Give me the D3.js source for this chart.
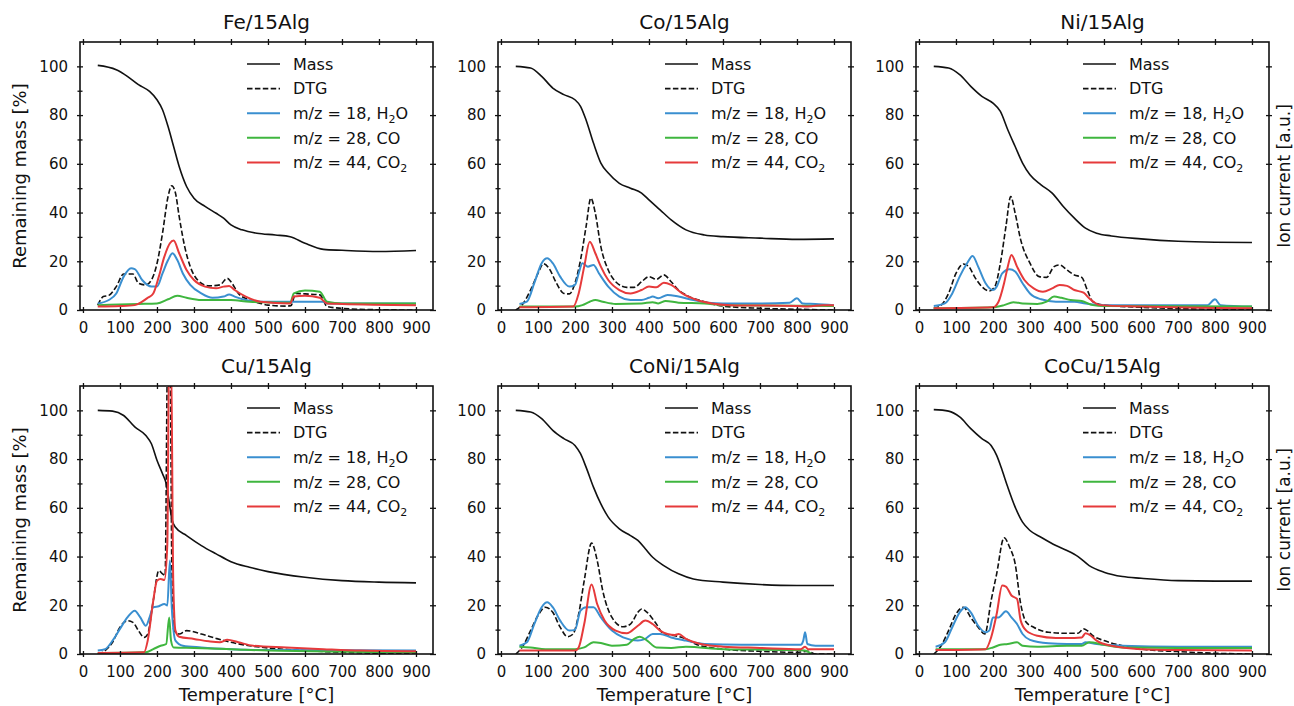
<!DOCTYPE html>
<html>
<head>
<meta charset="utf-8">
<script src="https://cdn.jsdelivr.net/npm/d3@7"></script>
<style>
body{margin:0;background:#fff;}
svg{display:block;font-family:"DejaVu Sans",sans-serif;}
</style>
</head>
<body>
<svg id="chart" width="1294" height="706"></svg>
<script>
// ---------- data (temperature °C, value) ----------
const titles = ["Fe/15Alg","Co/15Alg","Ni/15Alg","Cu/15Alg","CoNi/15Alg","CoCu/15Alg"];
const xTicks = [0,100,200,300,400,500,600,700,800,900];
const yTicks = [0,20,40,60,80,100];
const yMinor = [10,30,50,70,90];
const legendLabels = ["Mass","DTG","m/z = 18, H|2|O","m/z = 28, CO","m/z = 44, CO|2|"];

const feMass=[[40,100.4],[90,98.6],[120,95.9],[150,92.5],[180,89.7],[200,86.3],[215,82.2],[230,75.3],[245,67.1],[260,58.9],[280,50.7],[300,45.9],[330,42.5],[360,39.7],[380,37.7],[400,34.9],[430,32.9],[470,31.5],[520,30.8],[560,30.1],[600,27.4],[650,24.9],[700,24.5],[800,24.0],[900,24.4]];
const feDTG=[[40,2],[55,5.5],[70,6],[90,9.6],[110,14.8],[135,14.8],[150,11],[170,10.3],[185,12.3],[200,19],[215,31.5],[230,46.6],[240,51],[250,48],[260,38.4],[275,26],[290,17.8],[310,12.3],[340,9.9],[370,10.3],[390,13],[400,11.6],[420,6.8],[450,4.1],[480,2.7],[500,2],[550,1.6],[562,1.8],[575,6.8],[600,6.6],[640,6.2],[660,1.4],[700,0.7],[800,0.1],[900,0]];
const feH2O=[[40,2.7],[70,4.1],[90,6.8],[110,13.7],[130,17.1],[140,16.8],[160,12.3],[185,9.6],[200,9.6],[215,15],[230,20.5],[242,23.3],[255,20.5],[270,15],[290,10.3],[320,6.8],[350,5],[380,5.5],[395,6.4],[410,5.5],[440,4.1],[480,3.4],[650,3.4],[660,2.7],[900,2.7]];
const feCO=[[40,2],[150,2.5],[200,2.7],[230,4.4],[255,5.9],[280,5],[320,4.1],[400,4.1],[450,3.4],[560,3],[570,6.8],[600,8],[640,7.5],[660,3.4],[700,2.7],[900,2.7]];
const feCO2=[[40,1.4],[100,1.6],[140,2],[160,3.4],[175,5],[190,6.8],[205,13.7],[220,21.9],[235,27.4],[245,28.5],[260,23.3],[280,16.4],[300,12.3],[330,9.6],[360,8.9],[380,9.6],[395,9.9],[410,8.2],[440,5.5],[480,3.4],[560,2.7],[570,5.5],[600,5.8],[640,5],[660,2.7],[700,2.5],[900,2]];

const coMass=[[40,100],[80,99.3],[110,95.9],[140,91.1],[170,88.4],[200,86.3],[215,83.6],[230,78],[250,68.5],[270,60.3],[290,56.2],[320,52],[350,50],[380,48],[400,45.2],[430,41.1],[460,37],[500,32.9],[550,30.8],[600,30.1],[700,29.5],[800,29],[900,29.2]];
const coDTG=[[40,0],[60,2.7],[80,8.2],[100,15],[115,19],[130,17.1],[150,11],[170,6.8],[185,6.6],[200,11],[215,20.5],[230,34.2],[243,45.9],[255,39.7],[270,26],[290,16.4],[310,11.6],[340,9.3],[360,9.3],[380,11.6],[400,13.7],[420,12.6],[440,14.4],[460,11.6],[480,8.2],[500,6.2],[550,3.4],[600,1.6],[700,0.7],[800,0.3],[900,0]];
const coH2O=[[50,2.5],[70,3.4],[90,11],[110,19.2],[125,21.2],[140,19.2],[160,13.7],[185,9.6],[200,10.3],[210,15],[220,19.2],[235,17.8],[250,18.5],[265,15],[290,9.6],[320,5.5],[350,4.1],[380,4.1],[400,5],[410,5.5],[425,4.8],[450,6.2],[480,5.5],[520,4.1],[560,3],[600,2.7],[700,2.7],[780,3],[800,4.8],[815,2.7],[850,2.5],[900,2]];
const coCO=[[50,1.4],[200,1.4],[220,2],[240,3.4],[255,4.1],[275,3.4],[310,2.5],[380,2.7],[410,3.2],[425,2.7],[445,3.7],[480,3],[550,2.7],[600,2],[900,1.6]];
const coCO2=[[50,1.1],[195,1.4],[210,6.8],[225,17.8],[240,28],[255,23.3],[270,17.8],[290,12.3],[320,8.2],[350,6.8],[380,8.2],[400,9.6],[420,9.3],[440,11.2],[460,10.3],[490,6.8],[530,4.1],[570,2.7],[620,2],[800,1.6],[830,1.4],[870,2],[900,2]];

const niMass=[[40,100],[80,99.3],[110,96.6],[140,91.8],[170,87.7],[200,84.9],[220,81.5],[240,74],[260,67.1],[280,60.3],[300,55.5],[330,51.4],[360,48],[390,42.5],[420,37.7],[450,33.6],[480,31.5],[520,30.4],[600,29.2],[700,28.2],[800,27.8],[900,27.7]];
const niDTG=[[40,0.7],[60,2],[80,6.8],[100,15],[120,18.9],[135,17.8],[150,13.7],[170,9.6],[190,7.8],[205,9.6],[220,19.2],[235,34.2],[248,46.6],[260,39.7],[275,28.8],[300,19.2],[325,13.7],[345,13.4],[365,17.8],[380,18.5],[400,16.4],[420,14.4],[440,13.4],[455,8.2],[470,3.4],[500,2],[600,1.1],[700,0.6],[900,0]];
const niH2O=[[40,1.6],[70,2.7],[90,6.8],[110,13.7],[130,19.2],[145,22.2],[160,17.8],[180,11],[200,8.2],[210,9.6],[225,15],[245,16.7],[260,15.8],[280,11],[300,6.8],[330,4.4],[370,3.4],[420,3.4],[450,2.7],[500,2],[780,2],[800,4.4],[815,2],[900,1.4]];
const niCO=[[40,0.7],[200,1.1],[230,2],[255,3.2],[280,2.7],[320,2.5],[345,3.4],[365,5.5],[385,5],[410,4.1],[440,3.7],[470,2],[500,1.6],[900,1.4]];
const niCO2=[[40,0.7],[200,1.1],[215,3.4],[230,11],[240,17.8],[250,22.6],[265,17.8],[285,12.3],[310,8.9],[335,7.5],[360,8.9],[380,10.3],[400,9.9],[420,8.2],[445,7.1],[460,4.8],[490,2],[600,1.4],[900,0.7]];

const cuMass=[[40,100],[80,99.7],[110,97.9],[140,93.2],[170,89.7],[185,86.3],[200,79.5],[215,74],[225,69.9],[235,60.3],[240,55.5],[250,52],[280,48.6],[320,44.5],[360,41.1],[400,37.9],[450,35.6],[500,33.8],[600,31.5],[700,30.1],[800,29.5],[900,29.2]];
const cuDTG=[[40,0],[60,1.4],[80,4.8],[100,11],[120,13.7],[135,13],[150,9.6],[165,6.8],[175,8.2],[190,21.9],[205,34.2],[215,32.9],[222,32.2],[229,125],[235,125],[241,25],[246,9.6],[260,8.2],[280,9.6],[320,8.2],[360,6.4],[400,4.8],[450,3.4],[500,2.5],[600,1.4],[700,0.7],[900,0]];
const cuH2O=[[40,1.4],[60,2],[80,5.5],[100,10.3],[120,15],[140,17.8],[155,15],[170,11.6],[180,15],[190,19.2],[205,19.6],[220,20.5],[228,19.9],[235,38.4],[240,19.2],[250,5.5],[270,3.4],[320,2.7],[400,2],[500,1.6],[900,1.4]];
const cuCO=[[40,0.4],[170,0.7],[190,2],[210,3.4],[225,4.1],[233,15],[238,5.5],[245,2.7],[300,2.5],[400,2],[500,1.4],[900,0.7]];
const cuCO2=[[40,0.4],[165,0.7],[175,5.5],[190,21.9],[200,30.1],[210,30.8],[220,30.4],[228,45],[233,125],[238,125],[244,30],[250,9.6],[260,7.1],[300,6.2],[340,5.2],[370,4.8],[390,5.8],[420,4.8],[460,3.4],[550,2.7],[650,2],[750,1.4],[900,1.1]];

const coniMass=[[40,100],[80,99.3],[110,96.6],[140,91.8],[170,88.4],[200,85.6],[215,82.2],[230,76.7],[250,68.5],[270,61.6],[290,56.2],[320,51.4],[350,48.6],[370,46.6],[390,43.2],[410,39.7],[440,36.3],[480,32.9],[520,30.8],[600,29.5],[700,28.5],[800,28.1],[900,28.1]];
const coniDTG=[[40,0],[60,3.4],[80,9.6],[100,15.8],[120,19.2],[140,17.1],[160,11],[180,7.1],[195,8.2],[210,16.4],[225,30.1],[245,45.5],[260,38.4],[275,26],[300,15],[330,11.2],[350,12.3],[370,17.1],[380,18.5],[395,17.1],[420,12.3],[440,8.2],[470,7.5],[500,6.2],[530,3.8],[600,2],[700,1.1],[800,0.7],[830,1.1],[850,0],[900,0]];
const coniH2O=[[50,3.4],[70,4.8],[90,12.3],[110,19.2],[125,21.2],[140,19.2],[160,13.7],[185,9.6],[200,9.9],[215,17.8],[230,19.2],[250,19.2],[270,15],[300,9.6],[330,6.8],[370,5.5],[390,6.2],[410,8.2],[430,8.2],[460,6.8],[500,5.5],[550,4.1],[650,3.8],[810,3.8],[817,5.5],[822,8.9],[828,4.1],[850,3.4],[900,3.4]];
const coniCO=[[50,3],[80,2.7],[120,2],[200,2],[225,2.7],[250,4.8],[270,4.5],[300,3.4],[340,3.8],[360,6.2],[375,7.1],[395,5.5],[420,2.7],[460,2.5],[500,3],[600,2],[800,1.6],[820,1.4],[840,0]];
const coniCO2=[[50,1.4],[200,1.4],[210,2.7],[225,12.3],[245,28.5],[260,20.5],[280,13.7],[310,9.6],[340,8.5],[370,11.6],[390,13.7],[410,12.3],[430,9.6],[450,8.2],[470,7.8],[480,8.2],[500,6.2],[540,4.1],[600,3],[700,2.5],[810,2],[822,3],[830,2],[900,2]];

const cocuMass=[[40,100.3],[80,99.7],[110,97.3],[140,92.5],[170,88.4],[195,85.6],[210,81.5],[225,75.3],[240,68.5],[260,60.3],[280,54.1],[300,50.7],[330,47.9],[370,44.5],[400,42.5],[430,40],[460,36.3],[500,33.6],[550,31.8],[600,31.1],[700,30.1],[800,29.9],[900,29.9]];
const cocuDTG=[[40,0],[60,3.4],[80,9.6],[100,16.4],[120,19.2],[140,15],[160,11],[178,8.2],[195,21.9],[210,32.9],[230,47.7],[245,43.8],[260,37],[275,20.5],[290,13],[310,11],[350,8.9],[400,8.5],[430,8.5],[445,10.3],[455,9.6],[470,7.5],[500,5.5],[550,3.4],[600,2],[700,1],[800,0.3],[900,0]];
const cocuH2O=[[45,3],[70,4.8],[90,11],[110,17.1],[125,19.2],[140,17.1],[160,11.6],[180,8.9],[190,9.6],[200,15],[215,15],[235,17.5],[250,15],[265,12.3],[280,8.2],[300,5.8],[350,4.4],[400,4.1],[440,4.1],[450,4.8],[480,4.1],[550,3.4],[700,3],[900,3]];
const cocuCO=[[45,2],[180,2],[200,2.7],[220,3.8],[240,4.1],[265,4.8],[280,3.4],[320,3],[400,3.4],[440,3.4],[460,4.8],[500,3.8],[550,2.7],[700,2.5],[900,2.5]];
const cocuCO2=[[45,1.6],[180,2],[195,6.8],[210,16.4],[225,28.1],[235,27.7],[250,24],[265,22.6],[275,13.7],[290,9.6],[320,7.5],[370,6.6],[420,6.6],[440,6.8],[450,8.5],[465,7.5],[480,5.5],[520,3.4],[600,2],[700,1.6],[900,1.4]];

// ---------- layout ----------
const panels = [
  {title:titles[0], s:[feMass,feDTG,feH2O,feCO,feCO2]},
  {title:titles[1], s:[coMass,coDTG,coH2O,coCO,coCO2]},
  {title:titles[2], s:[niMass,niDTG,niH2O,niCO,niCO2]},
  {title:titles[3], s:[cuMass,cuDTG,cuH2O,cuCO,cuCO2]},
  {title:titles[4], s:[coniMass,coniDTG,coniH2O,coniCO,coniCO2]},
  {title:titles[5], s:[cocuMass,cocuDTG,cocuH2O,cocuCO,cocuCO2]}
];
const colLeft=[80,498,916], rowTop=[42,386], W=353, H=268;
const styles=[
  {stroke:"#111", w:1.6, dash:null},
  {stroke:"#111", w:1.6, dash:"5.5,2.4"},
  {stroke:"#3a8fd0", w:2, dash:null},
  {stroke:"#3fb63f", w:2, dash:null},
  {stroke:"#e63a3b", w:2, dash:null}
];

const svg=d3.select("#chart");
const x=d3.scaleLinear().domain([-8,946]).range([0,W]);
const y=d3.scaleLinear().domain([0,110]).range([H,0]);

panels.forEach((p,i)=>{
  const c=i%3, r=Math.floor(i/3);
  const g=svg.append("g").attr("transform",`translate(${colLeft[c]},${rowTop[r]})`);
  g.append("clipPath").attr("id","clip"+i).append("rect").attr("width",W).attr("height",H);

  const line=d3.line().x(d=>x(d[0])).y(d=>y(d[1])).curve(d3.curveMonotoneX);
  const lg=g.append("g").attr("clip-path",`url(#clip${i})`);
  p.s.forEach((ser,k)=>{
    lg.append("path").datum(ser).attr("d",line).attr("fill","none")
      .attr("stroke",styles[k].stroke).attr("stroke-width",styles[k].w)
      .attr("stroke-dasharray",styles[k].dash).attr("stroke-linejoin","round");
  });

  g.append("rect").attr("width",W).attr("height",H).attr("fill","none").attr("stroke","#111").attr("stroke-width",1.6);

  const tickStyle=sel=>{sel.select(".domain").remove();sel.selectAll("line").attr("stroke","#111").attr("stroke-width",1.3);
    sel.selectAll("text").attr("fill","#111").style("font-size","15px").style("font-family","DejaVu Sans");};
  g.append("g").attr("transform",`translate(0,${H})`).call(d3.axisBottom(x).tickValues(xTicks).tickSize(3).tickPadding(9)).call(tickStyle);
  g.append("g").attr("transform",`translate(0,${H})`).call(d3.axisBottom(x).tickValues(xTicks).tickSize(-3).tickFormat("")).call(tickStyle);
  g.append("g").call(d3.axisTop(x).tickValues(xTicks).tickSize(3).tickFormat("")).call(tickStyle);
  g.append("g").call(d3.axisTop(x).tickValues(xTicks).tickSize(-3).tickFormat("")).call(tickStyle);
  g.append("g").call(d3.axisLeft(y).tickValues(yTicks).tickSize(3).tickPadding(9)).call(tickStyle);
  g.append("g").call(d3.axisLeft(y).tickValues(yTicks).tickSize(-3).tickFormat("")).call(tickStyle);
  g.append("g").call(d3.axisLeft(y).tickValues(yMinor).tickSize(2.5).tickFormat("")).call(tickStyle);
  g.append("g").call(d3.axisLeft(y).tickValues(yMinor).tickSize(-2.5).tickFormat("")).call(tickStyle);
  g.append("g").attr("transform",`translate(${W},0)`).call(d3.axisRight(y).tickValues(yTicks).tickSize(3).tickFormat("")).call(tickStyle);
  g.append("g").attr("transform",`translate(${W},0)`).call(d3.axisRight(y).tickValues(yTicks).tickSize(-3).tickFormat("")).call(tickStyle);

  g.append("text").attr("x",W/2+10).attr("y",-13).attr("text-anchor","middle")
    .style("font-size","20px").attr("fill","#111").text(p.title);

  const leg=g.append("g").attr("transform","translate(167,22)");
  legendLabels.forEach((lab,k)=>{
    const yy=k*24.6;
    leg.append("line").attr("x1",0).attr("x2",33).attr("y1",yy).attr("y2",yy)
      .attr("stroke",styles[k].stroke).attr("stroke-width",styles[k].w).attr("stroke-dasharray",styles[k].dash);
    const t=leg.append("text").attr("x",46).attr("y",yy).attr("dy","0.36em").style("font-size","16px").attr("fill","#111");
    lab.split("|").forEach((part,j)=>{
      if(!part) return;
      const ts=t.append("tspan").text(part);
      if(j===1) ts.style("font-size","11px").attr("dy","4");
      if(j===2) ts.attr("dy","-4");
    });
  });

  if(c===0){
    g.append("text").attr("transform",`translate(${20-colLeft[c]},${H/2}) rotate(-90)`)
      .attr("text-anchor","middle").attr("dy","0.35em").style("font-size","18px").attr("fill","#111").text("Remaining mass [%]");
  }
  if(c===2){
    g.append("text").attr("transform",`translate(${W+15},${H/2}) rotate(-90)`)
      .attr("text-anchor","middle").attr("dy","0.35em").style("font-size","17px").attr("fill","#111").text("Ion current [a.u.]");
  }
  if(r===1){
    g.append("text").attr("x",W/2).attr("y",H+47).attr("text-anchor","middle")
      .style("font-size","18px").attr("fill","#111").text("Temperature [°C]");
  }
});
</script>
</body>
</html>
